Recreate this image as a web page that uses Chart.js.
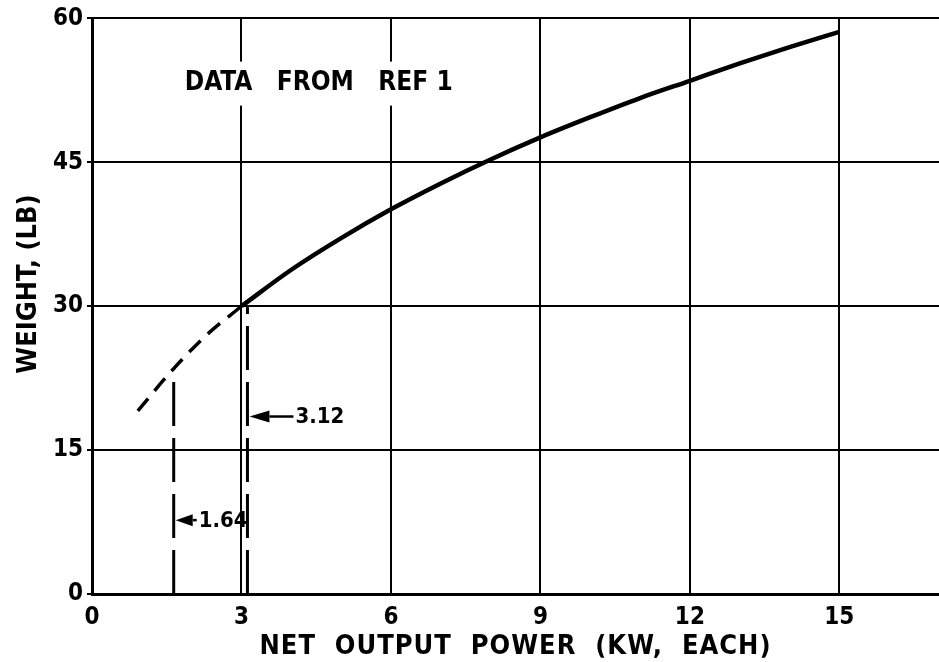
<!DOCTYPE html>
<html>
<head>
<meta charset="utf-8">
<script src="https://cdn.jsdelivr.net/npm/chart.js@4.4.1/dist/chart.umd.min.js"></script>
<style>
  html, body { margin: 0; padding: 0; background: #fff; }
  #wrap { width: 939px; height: 662px; }
</style>
</head>
<body>
<div id="wrap"><canvas id="weightChart"></canvas></div>
<script>
// weight against net output power, one unit each
const measuredPower = [3, 4, 5, 6, 7, 8, 9, 10, 11, 12, 13, 14, 15];
const measuredWeight = [30, 33.8, 37.1, 40.1, 42.8, 45.3, 47.6, 49.7, 51.7, 53.5, 55.3, 57.0, 58.6];
const extrapPower = [0.92, 1.64, 2.3, 3];
const extrapWeight = [19.1, 23.5, 27, 30];
const markerPower = [1.64, 3.12];
const markerWeight = [23.5, 30];
const markerLabelAt = [7.7, 18.5];
const xTicks = [0, 3, 6, 9, 12, 15];
const yTicks = [0, 15, 30, 45, 60];
const noteText = 'DATA   FROM   REF 1';
const xTitle = 'NET OUTPUT POWER (KW, EACH)';
const yTitle = 'WEIGHT, (LB)';

const FONT = '"DejaVu Sans Condensed", "DejaVu Sans", sans-serif';

const toPoints = (xs, ys) => xs.map((v, i) => ({ x: v, y: ys[i] }));

const markerSets = markerPower.map((p, i) => ({
  data: [{ x: p, y: 0 }, { x: p, y: markerWeight[i] }],
  borderColor: '#000',
  borderWidth: 3,
  borderDash: [44, 12],
  pointRadius: 0,
  fill: false
}));

function arrowLeft(ctx, tipX, yPix, head, shaftEnd) {
  ctx.beginPath();
  ctx.moveTo(tipX, yPix);
  ctx.lineTo(tipX + head, yPix - 6);
  ctx.lineTo(tipX + head, yPix + 6);
  ctx.closePath();
  ctx.fill();
  ctx.lineWidth = 2.5;
  ctx.beginPath();
  ctx.moveTo(tipX + head, yPix);
  ctx.lineTo(shaftEnd, yPix);
  ctx.stroke();
}

const notesPlugin = {
  id: 'notes',
  afterDatasetsDraw(chart) {
    const { ctx, scales: { x, y } } = chart;
    ctx.save();
    ctx.fillStyle = '#000';
    ctx.strokeStyle = '#000';

    // note at the top, on a white patch that breaks the grid
    const nx = x.getPixelForValue(4.55);
    const ny = y.getPixelForValue(53.2);
    ctx.font = 'bold 26px ' + FONT;
    ctx.textAlign = 'center';
    ctx.textBaseline = 'middle';
    const nw = ctx.measureText(noteText).width;
    ctx.fillStyle = '#fff';
    ctx.fillRect(nx - nw / 2 - 8, ny - 22, nw + 16, 44);
    ctx.fillStyle = '#000';
    ctx.fillText(noteText, nx, ny);

    // arrows pointing at the dashed power markers
    ctx.font = 'bold 22px ' + FONT;
    ctx.textAlign = 'left';
    markerPower.forEach((p, i) => {
      const tip = x.getPixelForValue(p) + 2;
      const yp = y.getPixelForValue(markerLabelAt[i]);
      const head = i === 0 ? 17 : 20;
      const shaft = i === 0 ? tip + 21 : tip + 44;
      arrowLeft(ctx, tip, yp, head, shaft);
      ctx.fillText(p.toFixed(2), shaft + 2, yp + 1);
    });

    // axis titles
    const area = chart.chartArea;
    ctx.font = 'bold 27px ' + FONT;
    ctx.letterSpacing = '1px';
    ctx.textAlign = 'center';
    ctx.textBaseline = 'alphabetic';
    ctx.fillText(xTitle.replace(/ /g, '  '), (area.left + area.right) / 2, 654);
    ctx.letterSpacing = '0px';
    ctx.translate(36, 284);
    ctx.rotate(-Math.PI / 2);
    ctx.fillText(yTitle, 0, 0);
    ctx.restore();
  }
};

new Chart(document.getElementById('weightChart'), {
  type: 'line',
  data: {
    datasets: [
      {
        data: toPoints(measuredPower, measuredWeight),
        borderColor: '#000',
        borderWidth: 4.5,
        pointRadius: 0,
        cubicInterpolationMode: 'monotone',
        fill: false
      },
      {
        data: toPoints(extrapPower, extrapWeight),
        borderColor: '#000',
        borderWidth: 3.5,
        borderDash: [16, 10],
        pointRadius: 0,
        cubicInterpolationMode: 'monotone',
        fill: false
      },
      ...markerSets
    ]
  },
  options: {
    responsive: true,
    maintainAspectRatio: false,
    animation: false,
    layout: { padding: { top: 18, right: 0, left: 0, bottom: 0 } },
    plugins: {
      legend: { display: false },
      tooltip: { enabled: false }
    },
    scales: {
      x: {
        type: 'linear',
        min: 0,
        max: 17,
        afterBuildTicks: (s) => { s.ticks = xTicks.map(v => ({ value: v })); },
        afterFit: (s) => { s.height = 68; },
        grid: { color: '#000', lineWidth: 2, drawTicks: false },
        border: { color: '#000', width: 3 },
        ticks: {
          color: '#000',
          padding: 9,
          font: { family: FONT, size: 24, weight: 'bold' }
        }
      },
      y: {
        min: 0,
        max: 60,
        afterBuildTicks: (s) => { s.ticks = yTicks.map(v => ({ value: v })); },
        afterFit: (s) => { s.width = 92; },
        grid: { color: '#000', lineWidth: 2, drawTicks: true, tickLength: 5 },
        border: { color: '#000', width: 3 },
        ticks: {
          color: '#000',
          padding: 4,
          font: { family: FONT, size: 24, weight: 'bold' }
        }
      }
    }
  },
  plugins: [notesPlugin]
});
</script>
</body>
</html>
